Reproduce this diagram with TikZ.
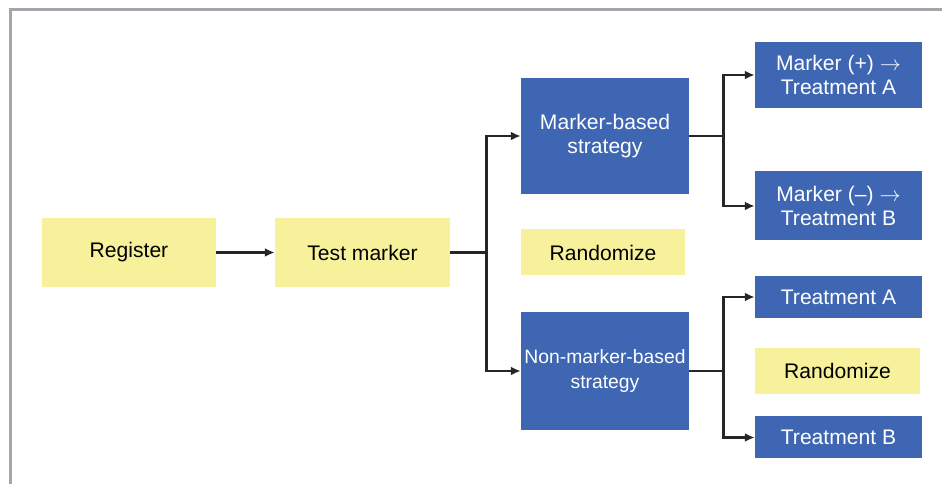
\documentclass[tikz,border=0pt]{standalone}
\usepackage{fontspec}
\setmainfont{Liberation Sans}
\usetikzlibrary{positioning,arrows.meta}
\definecolor{boxblue}{HTML}{3E66B2}
\definecolor{boxyellow}{HTML}{F7F19C}
\definecolor{framegrey}{HTML}{A2A6AA}
\tikzset{yellow node/.style={rectangle,fill=boxyellow,text=black,align=center,inner sep=0pt,font=\fontsize{12}{14}\selectfont},
         blue node/.style={rectangle,fill=boxblue,text=white,align=center,inner sep=0pt,font=\fontsize{12}{14}\selectfont},
         link/.style={-{Latex[length=5.5pt,width=5pt]},line width=1.4pt,draw=black!85}}

\begin{document}
\begin{tikzpicture}
\useasboundingbox (0,0) rectangle (18.84,-9.68);
\draw[framegrey,line width=1.7pt] (0.21,-9.68) -- (0.21,-0.19) -- (18.84,-0.19);
\begin{scope}[on grid]

  \node[yellow node,minimum width=3.48cm,minimum height=1.38cm] (reg) at (2.58,-5.05) {Register};
  \node[yellow node,minimum width=3.5cm,minimum height=1.38cm] (test) [right =4.67cm of reg] {Test marker};

  \node[blue node,minimum width=3.36cm,minimum height=2.32cm] (mbased) [above right =2.33cm and 4.85cm of test] {Marker-based\\strategy};
  \node[yellow node,minimum width=3.28cm,minimum height=0.92cm] (rand1) [right =4.81cm of test] {Randomize};
  \node[blue node,minimum width=3.36cm,minimum height=2.36cm,font=\fontsize{11}{14}\selectfont] (nmbased) [below right =2.37cm and 4.85cm of test] {Non-marker-based\\strategy};

  \node[blue node,minimum width=3.34cm,minimum height=1.32cm] (mpos) [above right =1.22cm and 4.67cm of mbased] {Marker (+) $\rightarrow$\\Treatment A};
  \node[blue node,minimum width=3.34cm,minimum height=1.38cm] (mneg) [below right =1.4cm and 4.67cm of mbased] {Marker (--) $\rightarrow$\\Treatment B};

  \node[blue node,minimum width=3.34cm,minimum height=0.84cm] (treatA) [above right =1.48cm and 4.67cm of nmbased] {Treatment A};
  \node[yellow node,minimum width=3.3cm,minimum height=0.92cm] (rand2) [right =4.65cm of nmbased] {Randomize};
  \node[blue node,minimum width=3.34cm,minimum height=0.84cm] (treatB) [below right =1.33cm and 4.67cm of nmbased] {Treatment B};

  \draw[link] (reg) -- (test);

  \draw[link] (test.east) -- ++(0.72,0) |- (mbased.west);
  \draw[link] (test.east) -- ++(0.72,0) |- (nmbased.west);

  \draw[link] (mbased.east) -- ++(0.68,0) |- (mpos.west);
  \draw[link] (mbased.east) -- ++(0.68,0) |- (mneg.west);

  \draw[link] (nmbased.east) -- ++(0.68,0) |- (treatA.west);
  \draw[link] (nmbased.east) -- ++(0.68,0) |- (treatB.west);
\end{scope}
\end{tikzpicture}
\end{document}
